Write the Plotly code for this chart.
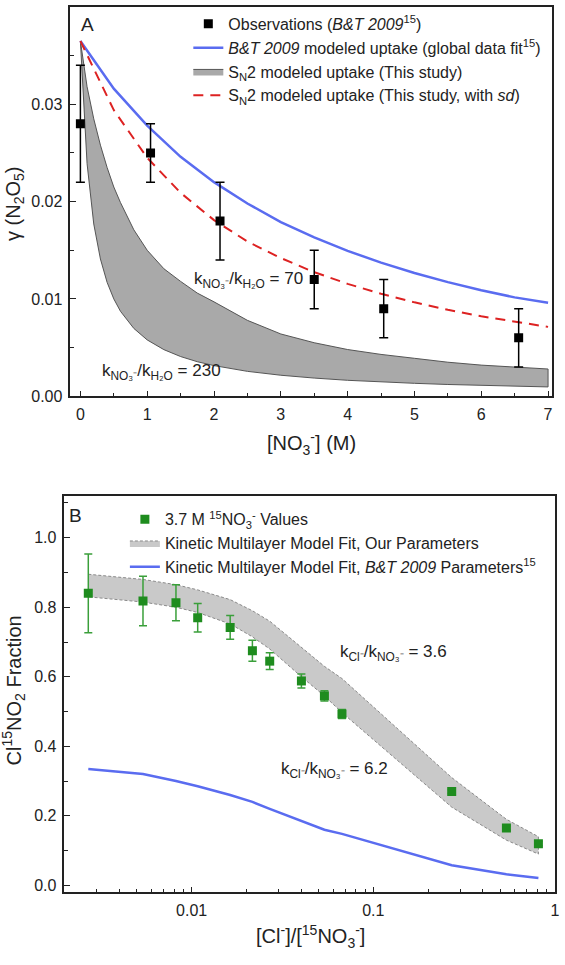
import plotly.graph_objects as go

# ---------------- Panel A data ----------------
obs_x = [0.0, 1.05, 2.09, 3.5, 4.54, 6.56]
obs_y = [0.028, 0.025, 0.018, 0.012, 0.009, 0.006]
obs_err = [0.006, 0.003, 0.004, 0.003, 0.003, 0.003]

curve_x = [0, 0.5, 1, 1.5, 2, 2.5, 3, 3.5, 4, 4.5, 5, 5.5, 6, 6.5, 7]
bt_y = [0.0365, 0.0316, 0.0278, 0.0246, 0.0220, 0.0198, 0.0179, 0.01633, 0.01494,
        0.01373, 0.01267, 0.01173, 0.0109, 0.01016, 0.0096]
sd_y = [0.0365, 0.0294, 0.0245, 0.0209, 0.0181, 0.0159, 0.0142, 0.01275, 0.01155,
        0.01053, 0.00965, 0.00889, 0.00822, 0.00764, 0.00713]

band_x = [0, 0.1, 0.2, 0.3, 0.4, 0.5, 0.6, 0.8, 1.0, 1.25, 1.5, 1.75, 2, 2.5, 3,
          3.5, 4, 4.5, 5, 5.5, 6, 6.5, 7]
band_hi = [0.0365, 0.0318, 0.0285, 0.0258, 0.0235, 0.0215, 0.0199, 0.0171, 0.0150,
           0.0131, 0.0118, 0.0106, 0.0097, 0.0078, 0.0064, 0.0055, 0.0048, 0.0043,
           0.0039, 0.0035, 0.0032, 0.0030, 0.0028]
band_lo = [0.0365, 0.0239, 0.0177, 0.0141, 0.0117, 0.0100, 0.00873, 0.00697, 0.00579,
           0.00479, 0.00408, 0.00355, 0.00315, 0.00256, 0.00216, 0.00187, 0.00164,
           0.00147, 0.00133, 0.00121, 0.00111, 0.00103, 0.00096]

# ---------------- Panel B data ----------------
b_x = [0.0027, 0.0054, 0.0082, 0.0108, 0.0163, 0.0216, 0.0269, 0.0402, 0.0538,
       0.0672, 0.270, 0.540, 0.810]
b_y = [0.840, 0.818, 0.813, 0.770, 0.742, 0.675, 0.645, 0.588, 0.545, 0.493,
       0.270, 0.165, 0.120]
b_err = [0.113, 0.071, 0.052, 0.041, 0.034, 0.030, 0.024, 0.020, 0.015, 0.013,
         0.006, 0.006, 0.006]
kmb_hi = [0.895, 0.880, 0.865, 0.850, 0.822, 0.790, 0.760, 0.685, 0.630, 0.595,
          0.310, 0.190, 0.140]
kmb_lo = [0.830, 0.815, 0.800, 0.785, 0.752, 0.715, 0.680, 0.600, 0.545, 0.497,
          0.225, 0.130, 0.090]
kmb_bt = [0.335, 0.320, 0.300, 0.285, 0.260, 0.240, 0.220, 0.185, 0.160, 0.148,
          0.058, 0.032, 0.021]

FONT = "Liberation Sans, Arial, sans-serif"
W, H = 565, 965

fig = go.Figure()

# Panel A traces
fig.add_trace(go.Scatter(
    x=band_x + band_x[::-1], y=band_hi + band_lo[::-1], fill="toself",
    fillcolor="#a9a9a9", line=dict(color="#555555", width=1), mode="lines",
    name="S<sub>N</sub>2 modeled uptake (This study)", legend="legend",
    legendrank=3, xaxis="x", yaxis="y"))
fig.add_trace(go.Scatter(
    x=curve_x, y=bt_y, mode="lines", line=dict(color="#5a6cf0", width=2.5),
    name="<i>B&amp;T 2009</i> modeled uptake (global data fit<sup>15</sup>)",
    legend="legend", legendrank=2, xaxis="x", yaxis="y"))
fig.add_trace(go.Scatter(
    x=curve_x, y=sd_y, mode="lines",
    line=dict(color="#dd2222", width=2, dash="10px,7px"),
    name="S<sub>N</sub>2 modeled uptake (This study, with <i>sd</i>)",
    legend="legend", legendrank=4, xaxis="x", yaxis="y"))
fig.add_trace(go.Scatter(
    x=obs_x, y=obs_y, mode="markers",
    marker=dict(symbol="square", size=9, color="black"),
    error_y=dict(type="data", array=obs_err, color="black", thickness=1.5, width=4.5),
    name="Observations (<i>B&amp;T 2009</i><sup>15</sup>)",
    legend="legend", legendrank=1, xaxis="x", yaxis="y"))

# Panel B traces
fig.add_trace(go.Scatter(
    x=b_x + b_x[::-1], y=kmb_hi + kmb_lo[::-1], fill="toself",
    fillcolor="#c9c9c9", line=dict(color="#8a8a8a", width=1, dash="3px,2px"),
    mode="lines", name="Kinetic Multilayer Model Fit, Our Parameters",
    legend="legend2", legendrank=2, xaxis="x2", yaxis="y2"))
fig.add_trace(go.Scatter(
    x=b_x, y=kmb_bt, mode="lines", line=dict(color="#5a6cf0", width=2.5),
    name="Kinetic Multilayer Model Fit, <i>B&amp;T 2009</i> Parameters<sup>15</sup>",
    legend="legend2", legendrank=3, xaxis="x2", yaxis="y2"))
fig.add_trace(go.Scatter(
    x=b_x, y=b_y, mode="markers",
    marker=dict(symbol="square", size=9, color="#1e8c1e"),
    error_y=dict(type="data", array=b_err, color="#3a9f3a", thickness=1.5, width=4),
    name="3.7 M <sup>15</sup>NO<sub>3</sub><sup>-</sup> Values",
    legend="legend2", legendrank=1, xaxis="x2", yaxis="y2"))

axis_common = dict(showline=True, linecolor="#222", linewidth=1.5, mirror=True,
                   ticks="inside", ticklen=6, tickwidth=1.2, tickcolor="#222",
                   showgrid=False, zeroline=False,
                   tickfont=dict(family=FONT, size=16, color="#222"))

fig.update_layout(
    width=W, height=H, margin=dict(l=0, r=0, t=0, b=0),
    paper_bgcolor="white", plot_bgcolor="white",
    font=dict(family=FONT, size=16, color="#222"),
    xaxis=dict(domain=[71 / W, 557 / W], anchor="y", range=[-0.15, 7.06],
               tickmode="linear", tick0=0, dtick=1, ticklabelstandoff=3,
               minor=dict(ticks="inside", ticklen=3.5, tickwidth=1.2,
                          tickcolor="#222", dtick=0.5, tick0=0),
               **axis_common),
    yaxis=dict(domain=[1 - 400 / H, 1 - 7 / H], anchor="x", range=[0, 0.04],
               tickmode="linear", tick0=0, dtick=0.01, tickformat=".2f",
               ticklabelstandoff=3,
               minor=dict(ticks="inside", ticklen=3.5, tickwidth=1.2,
                          tickcolor="#222", dtick=0.005, tick0=0),
               **axis_common),
    xaxis2=dict(domain=[65 / W, 560 / W], anchor="y2", type="log",
                range=[-2.7, 0.0], ticklabelstandoff=3,
                tickvals=[0.01, 0.1, 1], ticktext=["0.01", "0.1", "1"],
                minor=dict(ticks="inside", ticklen=3.5, tickwidth=1.2,
                           tickcolor="#222",
                           tickvals=[0.003, 0.004, 0.005, 0.006, 0.007, 0.008, 0.009,
                                     0.02, 0.03, 0.04, 0.05, 0.06, 0.07, 0.08, 0.09,
                                     0.2, 0.3, 0.4, 0.5, 0.6, 0.7, 0.8, 0.9]),
                **axis_common),
    yaxis2=dict(domain=[1 - 900.7 / H, 1 - 500.7 / H], anchor="x2",
                range=[-0.02, 1.12], ticklabelstandoff=3,
                tickvals=[0, 0.2, 0.4, 0.6, 0.8, 1.0], tickformat=".1f",
                minor=dict(ticks="inside", ticklen=3.5, tickwidth=1.2,
                           tickcolor="#222",
                           tickvals=[0.1, 0.3, 0.5, 0.7, 0.9, 1.1]),
                **axis_common),
    legend=dict(x=190 / W, y=1 - 7 / H, xanchor="left", yanchor="top",
                bgcolor="rgba(0,0,0,0)", font=dict(family=FONT, size=16, color="#222"),
                traceorder="normal", itemwidth=30, tracegroupgap=0),
    legend2=dict(x=126 / W, y=1 - 507 / H, xanchor="left", yanchor="top",
                 bgcolor="rgba(0,0,0,0)", font=dict(family=FONT, size=16, color="#222"),
                 traceorder="normal", itemwidth=30, tracegroupgap=0),
    showlegend=True,
)

ann = []
# panel letters
ann.append(dict(text="A", x=80 / W, y=1 - 25 / H, xref="paper", yref="paper",
                xanchor="left", yanchor="middle", showarrow=False,
                font=dict(family=FONT, size=19, color="#222")))
ann.append(dict(text="B", x=68 / W, y=1 - 520 / H, xref="paper", yref="paper",
                xanchor="left", yanchor="middle", showarrow=False,
                font=dict(family=FONT, size=19, color="#222")))
# axis titles
ann.append(dict(text="\u03b3 (N<sub>2</sub>O<sub>5</sub>)", x=14 / W, y=1 - 205 / H,
                xref="paper", yref="paper", textangle=-90, showarrow=False,
                xanchor="center", yanchor="middle",
                font=dict(family=FONT, size=20, color="#222")))
ann.append(dict(text="[NO<sub>3</sub><sup>-</sup>] (M)", x=314 / W, y=1 - 448 / H,
                xref="paper", yref="paper", showarrow=False,
                xanchor="center", yanchor="middle",
                font=dict(family=FONT, size=20, color="#222")))
ann.append(dict(text="Cl<sup>15</sup>NO<sub>2</sub> Fraction", x=14 / W, y=1 - 697 / H,
                xref="paper", yref="paper", textangle=-90, showarrow=False,
                xanchor="center", yanchor="middle",
                font=dict(family=FONT, size=20, color="#222")))
ann.append(dict(text="[Cl<sup>-</sup>]/[<sup>15</sup>NO<sub>3</sub><sup>-</sup>]",
                x=313 / W, y=1 - 945 / H, xref="paper", yref="paper", showarrow=False,
                xanchor="center", yanchor="middle",
                font=dict(family=FONT, size=20, color="#222")))
# in-plot labels
ann.append(dict(text="k<sub>NO\u2083\u207b</sub>/k<sub>H\u2082O</sub> = 70", x=2.51, y=0.0119,
                xref="x", yref="y", showarrow=False, xanchor="center", yanchor="middle",
                font=dict(family=FONT, size=17, color="#222")))
ann.append(dict(text="k<sub>NO\u2083\u207b</sub>/k<sub>H\u2082O</sub> = 230", x=1.22, y=0.0025,
                xref="x", yref="y", showarrow=False, xanchor="center", yanchor="middle",
                font=dict(family=FONT, size=17, color="#222")))
ann.append(dict(text="k<sub>Cl\u207b</sub>/k<sub>NO\u2083\u207b</sub> = 3.6", x=-0.891, y=0.667,
                xref="x2", yref="y2", showarrow=False, xanchor="center", yanchor="middle",
                font=dict(family=FONT, size=17, color="#222")))
ann.append(dict(text="k<sub>Cl\u207b</sub>/k<sub>NO\u2083\u207b</sub> = 6.2", x=-1.2124, y=0.332,
                xref="x2", yref="y2", showarrow=False, xanchor="center", yanchor="middle",
                font=dict(family=FONT, size=17, color="#222")))
fig.update_layout(annotations=ann)

fig.write_html("out.html")
